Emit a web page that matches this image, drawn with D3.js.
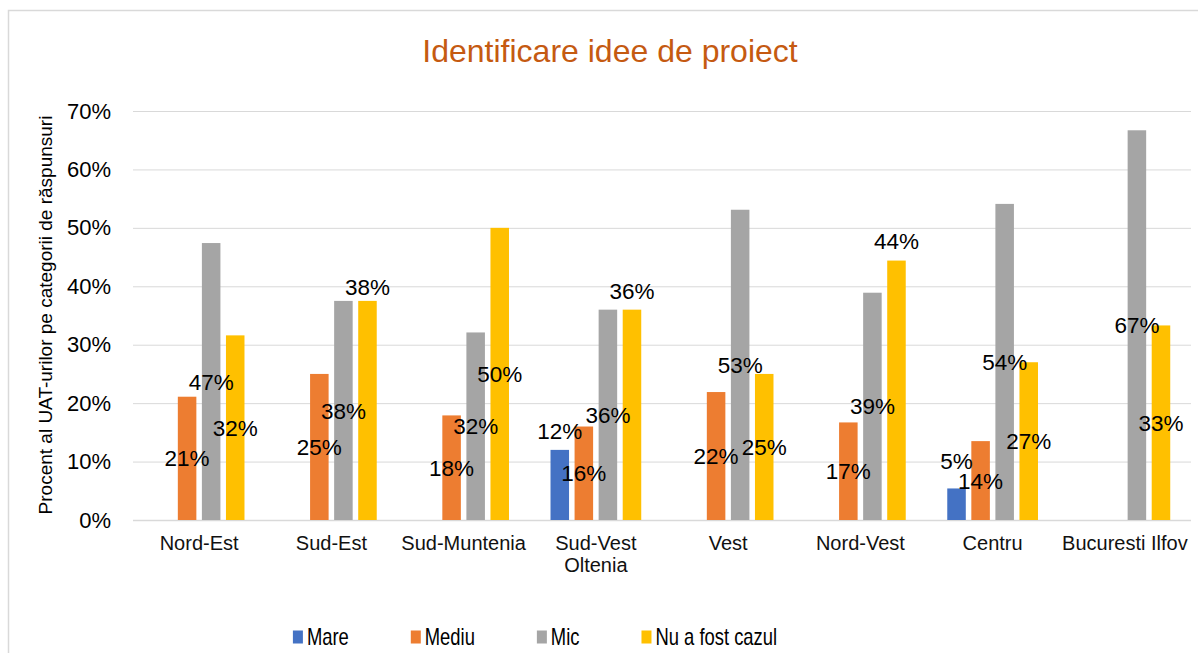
<!DOCTYPE html>
<html lang="ro">
<head>
  <meta charset="UTF-8">
  <title>Identificare idee de proiect</title>
  <script src="https://cdn.jsdelivr.net/npm/d3@7"></script>
  <style>
    html, body {
      margin: 0;
      padding: 0;
      background: #fff;
    }
    svg {
      display: block;
      font-family: 'Liberation Sans', Arial, sans-serif;
    }
    .grid line {
      stroke: #d9d9d9;
    }
    .grid text {
      font-size: 22px;
      fill: #000;
    }
  </style>
</head>
<body>
  <svg width="1198" height="653"></svg>

  <script>
    const categories = ['Nord-Est', 'Sud-Est', 'Sud-Muntenia', 'Sud-Vest Oltenia', 'Vest', 'Nord-Vest', 'Centru', 'Bucuresti Ilfov']
    const seriesNames = ['Mare', 'Mediu', 'Mic', 'Nu a fost cazul']
    const mare = [null, null, null, 12, null, null, 5.4, null]
    const mediu = [21.1, 25, 17.9, 16, 21.9, 16.7, 13.5, null]
    const mic = [47.4, 37.5, 32.1, 36, 53.1, 38.9, 54.1, 66.7]
    const nuAFostCazul = [31.6, 37.5, 50, 36, 25, 44.4, 27, 33.3]
    const yTicks = [0, 10, 20, 30, 40, 50, 60, 70]

    const colors = ['#4472c4', '#ed7d31', '#a5a5a5', '#ffc000']
    // labels Excel pushed above the bar instead of the middle (px above top)
    const outsideLabels = {
      'Sud-Est|Nu a fost cazul': 14,
      'Sud-Vest Oltenia|Mare': 19,
      'Sud-Vest Oltenia|Nu a fost cazul': 19,
      'Nord-Vest|Nu a fost cazul': 20,
      'Centru|Mare': 28
    }

    const allSeries = [mare, mediu, mic, nuAFostCazul]
    const rows = []
    categories.forEach((c, i) => {
      seriesNames.forEach((s, j) => {
        if (allSeries[j][i] != null) rows.push({ cat: c, name: s, value: allSeries[j][i], color: colors[j] })
      })
    })

    const plotLeft = 133, plotRight = 1191, plotTop = 111, plotBottom = 520
    const svg = d3.select('svg')

    svg.append('rect')
      .attr('x', 8.5).attr('y', 10.5)
      .attr('width', 1300).attr('height', 800)
      .attr('fill', '#fff')
      .attr('stroke', '#d9d9d9')
      .attr('stroke-width', 1.5)

    const x0 = d3.scaleBand().domain(categories).range([plotLeft, plotRight])
    const inset = x0.step() * 0.157
    const x1 = d3.scaleBand().domain(seriesNames)
      .range([inset, x0.step() - inset])
      .paddingInner(0.23)
    const y = d3.scaleLinear().domain([0, 70]).range([plotBottom, plotTop])

    const yAxis = svg.append('g')
      .attr('class', 'grid')
      .attr('transform', `translate(${plotLeft},0)`)
      .call(d3.axisLeft(y).tickValues(yTicks).tickFormat(d => d + '%')
        .tickSize(-(plotRight - plotLeft)).tickPadding(22))
    yAxis.select('.domain').remove()
    yAxis.attr('font-family', null).attr('font-size', null)
    yAxis.selectAll('.tick').filter(d => d === 0).select('line').attr('stroke-width', 1.5)

    // bars
    svg.append('g').selectAll('rect')
      .data(rows)
      .enter()
      .append('rect')
      .attr('x', d => x0(d.cat) + x1(d.name))
      .attr('y', d => y(d.value))
      .attr('width', x1.bandwidth())
      .attr('height', d => y(0) - y(d.value))
      .attr('fill', d => d.color)

    // data labels
    svg.append('g').selectAll('text')
      .data(rows)
      .enter()
      .append('text')
      .attr('x', d => x0(d.cat) + x1(d.name) + x1.bandwidth() / 2)
      .attr('y', d => {
        const off = outsideLabels[d.cat + '|' + d.name]
        return off != null ? y(d.value) - off : (y(d.value) + y(0)) / 2
      })
      .attr('dy', '0.36em')
      .attr('text-anchor', 'middle')
      .attr('font-size', 22.5)
      .attr('fill', '#000')
      .text(d => Math.round(d.value) + '%')

    // category labels, wrapped when wider than a band
    const catLabels = svg.append('g').selectAll('text')
      .data(categories)
      .enter()
      .append('text')
      .attr('x', d => x0(d) + x0.bandwidth() / 2)
      .attr('y', 550)
      .attr('text-anchor', 'middle')
      .attr('font-size', 20)
      .attr('fill', '#111')
      .text(d => d)
    catLabels.each(function(d) {
      const t = d3.select(this)
      if (this.getComputedTextLength() > x0.bandwidth() - 6) {
        const words = d.split(' ')
        t.text(null)
        words.forEach((w, i) => {
          t.append('tspan')
            .attr('x', x0(d) + x0.bandwidth() / 2)
            .attr('dy', i === 0 ? 0 : 22)
            .text(w)
        })
      }
    })

    // axis title
    svg.append('text')
      .attr('transform', 'translate(45, 315) rotate(-90)')
      .attr('text-anchor', 'middle')
      .attr('dy', '0.35em')
      .attr('font-size', 19)
      .attr('fill', '#000')
      .text('Procent al UAT-urilor pe categorii de răspunsuri')

    // title
    svg.append('text')
      .attr('x', 610)
      .attr('y', 51)
      .attr('dy', '0.35em')
      .attr('text-anchor', 'middle')
      .attr('font-size', 32)
      .attr('fill', '#c55a11')
      .text('Identificare idee de proiect')

    // legend
    const legend = svg.append('g')
    let lx = 0
    seriesNames.forEach((s, i) => {
      const g = legend.append('g').attr('transform', `translate(${lx},0)`)
      g.append('rect')
        .attr('x', 0).attr('y', -6.5)
        .attr('width', 10).attr('height', 13)
        .attr('fill', colors[i])
      const t = g.append('text')
        .attr('x', 14 / 0.8)
        .attr('dy', '0.36em')
        .attr('font-size', 23)
        .attr('fill', '#000')
        .attr('transform', 'scale(0.8,1)')
        .text(s)
      lx += 14 + t.node().getComputedTextLength() * 0.8 + 62
    })
    const legendW = lx - 62
    legend.attr('transform', `translate(${535 - legendW / 2},637)`)
  </script>
</body>
</html>
